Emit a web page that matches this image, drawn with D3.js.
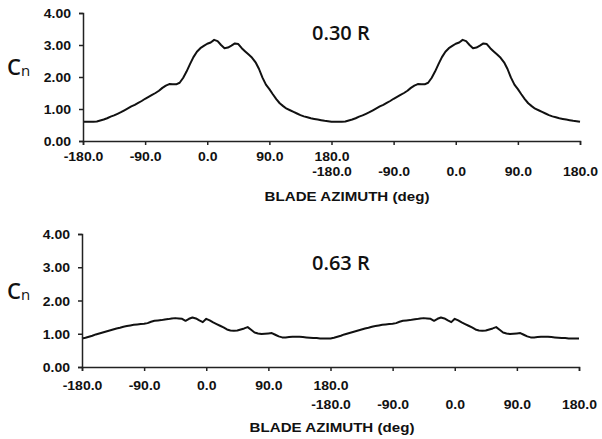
<!DOCTYPE html>
<html>
<head>
<meta charset="utf-8">
<script src="https://cdn.jsdelivr.net/npm/d3@7"></script>
<style>
  html, body { margin: 0; padding: 0; background: #fff; }
  svg { display: block; }
</style>
</head>
<body>
<svg id="chart" width="602" height="439"></svg>
<script>
// Blade azimuth samples over one revolution (deg)
const azimuth = [
  -180,-175,-170,-165,-160,-155,-150,-145,-140,-135,-130,-125,-120,-115,-110,-105,
  -100,-95,-90,-85,-80,-75,-70,-65,-60,-55,-50,-45,-40,-35,-30,-25,-20,-15,-10,-5,
  0,5,10,15,20,25,30,35,40,45,50,55,60,65,70,75,80,85,90,95,
  100,105,110,115,120,125,130,135,140,145,150,155,160,165,170,175,180
];

// Normal force coefficient at 0.30 R
const cnInboard = [
  0.60,0.60,0.60,0.60,0.61,0.64,0.67,0.71,0.76,0.80,0.85,0.90,0.96,1.02,1.08,1.13,
  1.19,1.25,1.32,1.38,1.44,1.50,1.57,1.66,1.73,1.78,1.77,1.77,1.82,1.97,2.17,2.40,2.62,2.79,2.90,2.97,
  3.04,3.08,3.16,3.12,3.00,2.90,2.92,2.98,3.05,3.03,2.90,2.80,2.70,2.60,2.46,2.25,1.98,1.76,1.62,1.46,
  1.31,1.18,1.09,1.01,0.96,0.91,0.86,0.81,0.77,0.74,0.71,0.69,0.67,0.65,0.63,0.62,0.60
];

// Normal force coefficient at 0.63 R
const cnMidspan = [
  0.86,0.88,0.91,0.94,0.98,1.01,1.04,1.07,1.10,1.13,1.16,1.18,1.21,1.23,1.25,1.27,
  1.28,1.29,1.30,1.32,1.36,1.39,1.40,1.41,1.43,1.44,1.46,1.47,1.46,1.45,1.39,1.45,1.49,1.46,1.40,1.35,
  1.45,1.40,1.34,1.29,1.24,1.19,1.13,1.10,1.09,1.10,1.13,1.16,1.20,1.12,1.04,1.01,0.99,1.00,1.01,1.02,
  0.97,0.92,0.89,0.89,0.90,0.91,0.91,0.91,0.90,0.89,0.88,0.87,0.87,0.86,0.86,0.86,0.86
];

// Axis ticks: two revolutions laid end to end
const xTicks = [-180, -90, 0, 90, 180, 270, 360, 450, 540];
const yTicks = [0, 1, 2, 3, 4];
const revolutions = [0, 360];

const panelLabels = ["0.30 R", "0.63 R"];
const axisTitle = "BLADE AZIMUTH (deg)";

const panels = [
  { label: panelLabels[0], values: cnInboard,
    x0: 83, x1: 580, yBottom: 141, yTop: 13,
    row1: 16, row2: 30.5, titleX: 347, titleY: 201, labelX: 312, labelY: 40, cnY: 75 },
  { label: panelLabels[1], values: cnMidspan,
    x0: 82, x1: 579, yBottom: 367, yTop: 234,
    row1: 19, row2: 37.5, titleX: 332, titleY: 432, labelX: 312, labelY: 270, cnY: 299 }
];

const stretch = 1.12;
const fmt = d => d.toFixed(1);
const svg = d3.select("#chart");

panels.forEach(p => {
  const x = d3.scaleLinear().domain([-180, 540]).range([p.x0, p.x1]);
  const y = d3.scaleLinear().domain([0, 4]).range([p.yBottom, p.yTop]);
  const g = svg.append("g");

  // Data line, one trace per revolution
  const points = [];
  revolutions.forEach((off, k) => {
    azimuth.forEach((a, i) => {
      if (k > 0 && i === 0) return;
      points.push([a + off, p.values[i]]);
    });
  });
  g.append("path")
    .datum(points)
    .attr("fill", "none")
    .attr("stroke", "#111")
    .attr("stroke-width", 2)
    .attr("stroke-linejoin", "round")
    .attr("d", d3.line().x(d => x(d[0])).y(d => y(d[1])));

  // Y axis
  const yAxis = g.append("g")
    .attr("transform", `translate(${p.x0},0)`)
    .call(d3.axisLeft(y).tickValues(yTicks).tickFormat(d => d.toFixed(2))
      .tickSize(4).tickPadding(12 / stretch - 4));
  yAxis.selectAll("text")
    .attr("transform", `scale(${stretch},1)`)
    .attr("x", -12 / stretch)
    .attr("dy", "0.36em");

  // X axis with first-revolution labels
  const xAxis = g.append("g")
    .attr("transform", `translate(0,${p.yBottom})`)
    .call(d3.axisBottom(x).tickValues(xTicks)
      .tickFormat(d => d <= 180 ? fmt(d) : "").tickSize(4));
  xAxis.selectAll("text")
    .attr("dy", null)
    .attr("y", p.row1 + 4.5)
    .attr("transform", `scale(${stretch},1)`);

  // Second row of labels for the following revolution
  const xAxis2 = g.append("g")
    .attr("transform", `translate(0,${p.yBottom})`)
    .call(d3.axisBottom(x).tickValues(xTicks.filter(d => d >= 180))
      .tickFormat(d => fmt(d - 360)).tickSize(0));
  xAxis2.select(".domain").remove();
  xAxis2.selectAll("text")
    .attr("dy", null)
    .attr("y", p.row2 + 4.5)
    .attr("transform", `scale(${stretch},1)`);

  [yAxis, xAxis].forEach(a => {
    a.select(".domain").attr("stroke", "#222").attr("stroke-width", 1.5);
    a.selectAll(".tick line").attr("stroke", "#222").attr("stroke-width", 1.5);
  });
  [yAxis, xAxis, xAxis2].forEach(a => {
    a.selectAll("text")
      .attr("fill", "#111")
      .style("font-family", "'Liberation Sans', Arial, sans-serif")
      .style("font-weight", "bold")
      .style("font-size", "12.5px");
  });

  // Axis title
  g.append("text")
    .attr("transform", `translate(${p.titleX},${p.titleY}) scale(${stretch},1)`)
    .attr("text-anchor", "middle")
    .style("font-family", "'Liberation Sans', Arial, sans-serif")
    .style("font-weight", "bold")
    .style("font-size", "13.5px")
    .attr("fill", "#111")
    .text(axisTitle);

  // Radial station label
  g.append("text")
    .attr("x", p.labelX)
    .attr("y", p.labelY)
    .style("font-family", "'Open Sans', sans-serif")
    .style("font-weight", "600")
    .style("font-size", "20px")
    .attr("fill", "#111")
    .text(p.label);

  // C_n axis label
  const cn = g.append("text")
    .attr("x", 7)
    .attr("y", p.cnY)
    .style("font-family", "'Open Sans', sans-serif")
    .style("font-weight", "600")
    .attr("fill", "#111");
  cn.append("tspan").style("font-size", "22px").text("C");
  cn.append("tspan").style("font-size", "15px").style("font-weight", "500").attr("dy", 1).text("n");
});
</script>
</body>
</html>
